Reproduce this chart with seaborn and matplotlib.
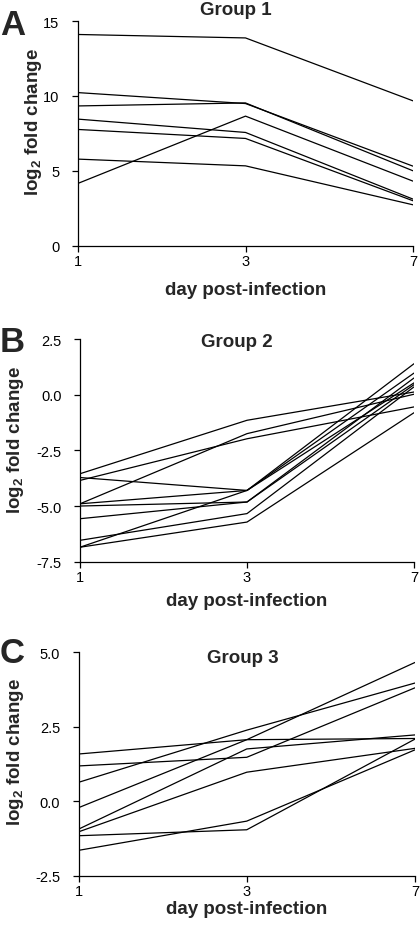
import numpy as np
import pandas as pd
import matplotlib
matplotlib.use('Agg')
import matplotlib.pyplot as plt
import seaborn as sns

# Data (log2 fold change per gene)
days = ['1', '3', '7']

group1 = [
    [14.10, 13.87, 9.67],
    [10.22, 9.49, 5.31],
    [9.33, 9.53, 5.00],
    [8.45, 7.56, 3.11],
    [7.76, 7.16, 3.00],
    [5.78, 5.33, 2.73],
    [4.16, 8.65, 4.31],
]
group2 = [
    [-3.55, -1.15, 0.12],
    [-3.85, -1.98, -0.55],
    [-3.72, -4.30, 0.53],
    [-4.90, -1.75, 0.02],
    [-4.90, -4.30, 0.97],
    [-5.00, -4.82, 0.45],
    [-5.57, -4.82, 0.75],
    [-6.54, -5.34, 0.35],
    [-6.85, -4.30, 1.39],
    [-6.85, -5.72, -0.81],
]
group3 = [
    [1.59, 2.07, 2.11],
    [1.19, 1.48, 3.81],
    [0.64, 2.39, 3.97],
    [-0.21, 2.07, 4.66],
    [-0.93, 1.76, 2.23],
    [-1.02, 0.98, 1.78],
    [-1.15, -0.95, 2.09],
    [-1.64, -0.66, 1.73],
]

yticks1 = [0, 5, 10, 15]
yticklabels1 = ['0', '5', '10', '15']
yticks2 = [-7.5, -5.0, -2.5, 0.0, 2.5]
yticklabels2 = ['-7.5', '-5.0', '-2.5', '0.0', '2.5']
yticks3 = [-2.5, 0.0, 2.5, 5.0]
yticklabels3 = ['-2.5', '0.0', '2.5', '5.0']


def to_long(series):
    rows = []
    for gi, vals in enumerate(series):
        for di, v in enumerate(vals):
            rows.append({'gene': gi, 'pos': di, 'day': days[di], 'val': v})
    return pd.DataFrame(rows)


sns.set_style('ticks')
plt.rcParams['font.family'] = ['Liberation Sans', 'DejaVu Sans']
plt.rcParams['mathtext.fontset'] = 'custom'
plt.rcParams['mathtext.rm'] = 'Liberation Sans:bold'
plt.rcParams['mathtext.it'] = 'Liberation Sans:bold'
plt.rcParams['mathtext.bf'] = 'Liberation Sans:bold'

H = 928.0
W = 420.0
fig = plt.figure(figsize=(4.2, 9.28), dpi=100)

# panel boxes in pixels: left, right, top, bottom
panels = [
    dict(data=group1, box=(78, 413, 22, 246.7), ylim=(0, 15), yt=yticks1, ytl=yticklabels1,
         title='Group 1', tx=236, tbase=15, letter='A', lbase=35, ylab_y=122, ylab_x=34, xlab_y=290),
    dict(data=group2, box=(80, 414, 340, 562.7), ylim=(-7.5, 2.5), yt=yticks2, ytl=yticklabels2,
         title='Group 2', tx=237, tbase=347, letter='B', lbase=352, ylab_y=440, ylab_x=16, xlab_y=601),
    dict(data=group3, box=(78.5, 415, 653.3, 877), ylim=(-2.5, 5.0), yt=yticks3, ytl=yticklabels3,
         title='Group 3', tx=243, tbase=663, letter='C', lbase=663, ylab_y=752, ylab_x=16, xlab_y=910),
]

for p in panels:
    l, r, t, b = p['box']
    ax = fig.add_axes([l / W, 1 - b / H, (r - l) / W, (b - t) / H])
    df = to_long(p['data'])
    sns.lineplot(data=df, x='pos', y='val', units='gene', estimator=None,
                 color='black', linewidth=0.9, ax=ax, legend=False)
    ax.set_xlim(0, 2)
    ax.set_ylim(*p['ylim'])
    ax.set_xticks([0, 1, 2])
    ax.set_xticklabels(days)
    ax.set_yticks(p['yt'])
    ax.set_yticklabels(p['ytl'])
    sns.despine(ax=ax)
    for s in ['left', 'bottom']:
        ax.spines[s].set_linewidth(0.9)
        ax.spines[s].set_color('black')
    ax.tick_params(axis='both', direction='out', length=4.3, width=0.9,
                   colors='black', labelsize=10.5)
    ax.tick_params(axis='y', pad=9)
    ax.tick_params(axis='x', pad=1.5)

    ax.set_xlabel('day post-infection', fontsize=13.5, fontweight='bold')
    ax.xaxis.label.set_va('center')
    ax.xaxis.set_label_coords(0.5, -(p['xlab_y'] - b) / (b - t))

    ax.set_ylabel('log$_{2}$ fold change', fontsize=13.5, fontweight='bold')
    ax.yaxis.label.set_va('center')
    ax.yaxis.set_label_coords(-(l - p['ylab_x']) / (r - l), (b - p['ylab_y']) / (b - t))

    fig.text(p['tx'] / W, 1 - p['tbase'] / H, p['title'], ha='center', va='baseline',
             fontsize=13.5, fontweight='bold')
    fig.text(0.0, 1 - p['lbase'] / H, p['letter'], ha='left', va='baseline',
             fontsize=25, fontweight='bold')

fig.savefig('out.png', dpi=100)
